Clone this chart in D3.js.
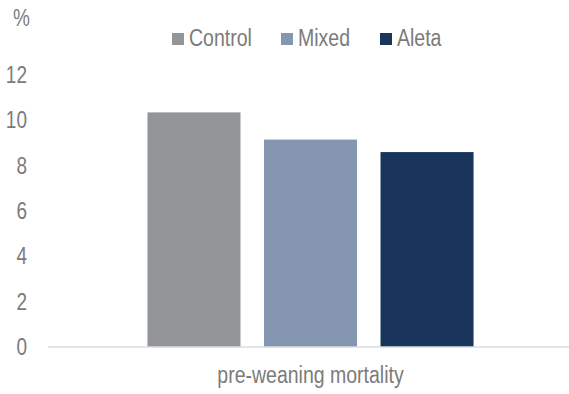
<!DOCTYPE html>
<html>
<head>
<meta charset="utf-8">
<script src="https://cdn.jsdelivr.net/npm/d3@7"></script>
<style>
  html, body { margin: 0; padding: 0; background: #fff; }
  svg { display: block; }
  text { font-family: "Liberation Sans", Arial, sans-serif; fill: #7b7b7b; }
</style>
</head>
<body>
<svg id="chart" width="569" height="394"></svg>
<script>
const categories = ["pre-weaning mortality"];
const seriesNames = ["Control", "Mixed", "Aleta"];
const seriesColors = ["#939598", "#8496b0", "#1a355b"];
const controlValues = [10.35];
const mixedValues = [9.15];
const aletaValues = [8.6];
const yTicks = [0, 2, 4, 6, 8, 10, 12];
const yUnit = "%";

(function () {
const seriesValues = [controlValues, mixedValues, aletaValues];
const svg = d3.select("#chart");
const SY = 1.25;
const FS = 19;

const mLeft = 48, mRight = 573, mTop = 75, mBottom = 347;
const y = d3.scaleLinear().domain([0, 12]).range([mBottom, mTop]);
const x0 = d3.scaleBand().domain(categories).range([mLeft, mRight]).paddingInner(0).paddingOuter(0.305);
const x1 = d3.scaleBand().domain(seriesNames).range([0, x0.bandwidth()]).paddingInner(0.2017).paddingOuter(0);

// bars
categories.forEach((c, ci) => {
  seriesNames.forEach((s, si) => {
    const v = seriesValues[si][ci];
    svg.append("rect")
      .attr("x", x0(c) + x1(s))
      .attr("y", y(v))
      .attr("width", x1.bandwidth())
      .attr("height", y(0) - y(v))
      .attr("fill", seriesColors[si]);
  });
});

// baseline
svg.append("line")
  .attr("x1", mLeft).attr("x2", 569)
  .attr("y1", y(0)).attr("y2", y(0))
  .attr("stroke", "#d9dde3").attr("stroke-width", 1.5);

// y axis
const yAxis = d3.axisLeft(y).tickValues(yTicks).tickSize(0).tickPadding(21).tickFormat(d3.format("d"));
const gy = svg.append("g").attr("transform", `translate(${mLeft},0)`).call(yAxis);
gy.select(".domain").remove();
gy.selectAll("text")
  .attr("font-size", FS).attr("fill", "#7b7b7b")
  .attr("font-family", "Liberation Sans, Arial, sans-serif")
  .attr("transform", `scale(1,${SY})`);

function stretchedText(tx, ty, str, anchor, fs) {
  return svg.append("text")
    .attr("transform", `translate(${tx},${ty}) scale(1,${SY})`)
    .attr("text-anchor", anchor || "start")
    .attr("font-size", fs || FS)
    .text(str);
}

// unit label
stretchedText(13, 26, yUnit);

// x label
stretchedText(x0(categories[0]) + x0.bandwidth() / 2, 383, categories[0], "middle", 19.5);

// legend
const legendX = [172, 281, 380];
seriesNames.forEach((s, i) => {
  svg.append("rect")
    .attr("x", legendX[i]).attr("y", 33)
    .attr("width", 12).attr("height", 12)
    .attr("fill", seriesColors[i]);
  stretchedText(legendX[i] + 17, 46, s, "start", 19.5);
});
})();
</script>
</body>
</html>
